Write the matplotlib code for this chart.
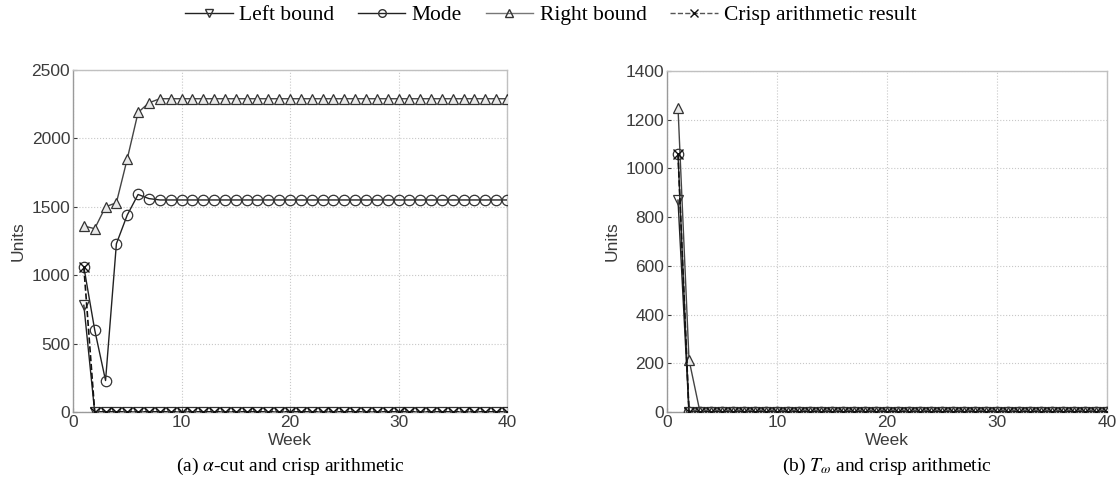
import matplotlib
matplotlib.use("Agg")
import matplotlib.pyplot as plt
from matplotlib.lines import Line2D

plt.rcParams["mathtext.fontset"] = "stix"

weeks = list(range(1, 41))

# Panel (a): alpha-cut and crisp arithmetic
a_left = [780, 0] + [0] * 38
a_mode = [1060, 600, 230, 1230, 1440, 1590, 1560] + [1550] * 33
a_right = [1360, 1340, 1500, 1530, 1850, 2190, 2260] + [2290] * 33
a_crisp = [1060, 0] + [0] * 38

# Panel (b): T_omega and crisp arithmetic
b_left = [870, 0] + [0] * 38
b_mode = [1060, 0] + [0] * 38
b_right = [1250, 215] + [0] * 38
b_crisp = [1060, 0] + [0] * 38

a_yticks = [0, 500, 1000, 1500, 2000, 2500]
b_yticks = [0, 200, 400, 600, 800, 1000, 1200, 1400]
xticks = [0, 10, 20, 30, 40]

W, H = 1118, 492
fig = plt.figure(figsize=(W / 100, H / 100), dpi=100)

ax1 = fig.add_axes([73 / W, (H - 412) / H, (507 - 73) / W, (412 - 70) / H])
ax2 = fig.add_axes([667 / W, (H - 412) / H, (1107 - 667) / W, (412 - 71) / H])

grey = "#9a9a9a"
tickc = "#3c3c3c"
ms = 7.5


def draw(ax, left, mode, right, crisp, ymax, yticks):
    ax.plot(weeks, right, color="#444444", lw=1.0, marker="^", ms=ms,
            mfc="#e8e8e8", mec="#333333", mew=0.9, zorder=3)
    ax.plot(weeks, mode, color="#222222", lw=1.0, marker="o", ms=ms,
            mfc="none", mec="#333333", mew=0.9, zorder=4)
    ax.plot(weeks, left, color="#222222", lw=1.0, marker="v", ms=ms,
            mfc="none", mec="#333333", mew=0.9, zorder=5)
    ax.plot(weeks, crisp, color="#111111", lw=1.2, ls="--", marker="x", ms=ms,
            mec="#111111", mew=1.0, zorder=6)
    ax.set_xlim(0, 40)
    ax.set_ylim(0, ymax)
    ax.set_xticks(xticks)
    ax.set_yticks(yticks)
    ax.grid(True, ls=":", color="#c8c8c8", lw=0.8)
    for s in ax.spines.values():
        s.set_color(grey)
        s.set_linewidth(1.0)
    ax.tick_params(colors=tickc, labelcolor=tickc, labelsize=12.5, length=3,
                   direction="in", width=0.8, pad=2)
    for lab in ax.get_xticklabels() + ax.get_yticklabels():
        lab.set_fontfamily("Liberation Sans")
    ax.set_xlabel("Week", fontsize=12.5, color="#3c3c3c", family="Liberation Sans", labelpad=2)
    ax.set_ylabel("Units", fontsize=12.5, color="#3c3c3c", family="Liberation Sans", labelpad=4)
    for sp in ["top", "right"]:
        ax.spines[sp].set_color("#c0c0c0")


draw(ax1, a_left, a_mode, a_right, a_crisp, 2500, a_yticks)
draw(ax2, b_left, b_mode, b_right, b_crisp, 1400, b_yticks)

fig.text(290 / W, 1 - 466 / H, r"(a) $\alpha$-cut and crisp arithmetic", ha="center",
         va="center", fontsize=14, family="Liberation Serif")
fig.text(887 / W, 1 - 466 / H, r"(b) $T_{\omega}$ and crisp arithmetic", ha="center",
         va="center", fontsize=14, family="Liberation Serif")

lms = 5.5
handles = [
    Line2D([], [], color="#222222", lw=1.0, marker="v", ms=lms, mfc="none", mec="#333333"),
    Line2D([], [], color="#222222", lw=1.0, marker="o", ms=lms, mfc="none", mec="#333333"),
    Line2D([], [], color="#777777", lw=1.0, marker="^", ms=lms, mfc="none", mec="#333333"),
    Line2D([], [], color="#555555", lw=1.0, ls="--", marker="x", ms=lms, mec="#111111"),
]
labels = ["Left bound", "Mode", "Right bound", "Crisp arithmetic result"]
fig.legend(handles, labels, loc="center", bbox_to_anchor=(551 / W, 1 - 15 / H), ncol=4,
           frameon=False, prop={"family": "Liberation Serif", "size": 15.5},
           handlelength=2.2, handletextpad=0.3, columnspacing=1.1)

fig.savefig("out.png", dpi=100)
